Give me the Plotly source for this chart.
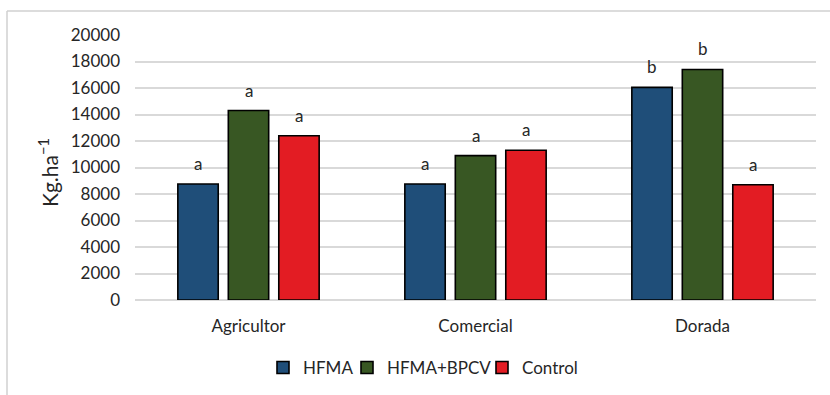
import plotly.graph_objects as go

# Yield per variety and treatment (kg/ha)
categories = ["Agricultor", "Comercial", "Dorada"]
series_names = ["HFMA", "HFMA+BPCV", "Control"]
hfma = [8750, 8750, 16050]
hfma_bpcv = [14300, 10900, 17400]
control = [12400, 11300, 8700]
# Significance letters per bar
letters_hfma = ["a", "a", "b"]
letters_hfma_bpcv = ["a", "a", "b"]
letters_control = ["a", "a", "a"]

y_ticks = list(range(0, 20001, 2000))

colors = ["#1f4e79", "#385723", "#e31c23"]
values = [hfma, hfma_bpcv, control]
letters = [letters_hfma, letters_hfma_bpcv, letters_control]

FONT = "Lato, 'Open Sans', sans-serif"
TEXT = "#262626"

W, H = 830, 395
ML, MR, MT, MB = 135, 14, 35, 95
PW, PH = W - ML - MR, H - MT - MB


def px_x(px):
    return (px - ML) / PW


def px_y(py):
    return (H - MB - py) / PH


legend_ids = ["legend", "legend2", "legend3"]
legend_left = [263, 347, 482]

fig = go.Figure()
for name, vals, col, lid in zip(series_names, values, colors, legend_ids):
    fig.add_trace(go.Bar(
        name=name, x=categories, y=vals, legend=lid, showlegend=True,
        marker=dict(color=col, line=dict(color="#000000", width=1.6)),
    ))

# Letters above each bar, positioned on the bar's own value
n = len(series_names)
bargap, groupgap = 0.333, 0.2
slot = (1 - bargap) / n
annotations = []
for i, (vals, labs) in enumerate(zip(values, letters)):
    offset = -(1 - bargap) / 2 + slot * (i + 0.5)
    for j, (v, lab) in enumerate(zip(vals, labs)):
        annotations.append(dict(
            x=j + offset, y=v, xref="x", yref="y", text=lab,
            showarrow=False, yanchor="bottom", yshift=8,
            font=dict(family=FONT, size=17, color=TEXT),
        ))

# Y-axis title
annotations.append(dict(
    x=px_x(32), y=px_y(173), xref="paper", yref="paper",
    text="Kg.ha<sup>\u22121</sup>", textangle=-90, showarrow=False,
    font=dict(family=FONT, size=21, color=TEXT),
))

# Chart frame (top and left edges)
shapes = [
    dict(type="line", xref="paper", yref="paper", x0=px_x(7), x1=px_x(W),
         y0=px_y(11), y1=px_y(11), line=dict(color="#d0d0d0", width=1.5)),
    dict(type="line", xref="paper", yref="paper", x0=px_x(7), x1=px_x(7),
         y0=px_y(H), y1=px_y(11), line=dict(color="#d0d0d0", width=1.5)),
]

legend_style = dict(font=dict(family=FONT, size=17, color=TEXT),
                    xanchor="left", yanchor="middle", y=px_y(368),
                    bgcolor="rgba(0,0,0,0)", visible=True)

fig.update_layout(
    width=W, height=H,
    margin=dict(l=ML, r=MR, t=MT, b=MB, autoexpand=False),
    paper_bgcolor="white", plot_bgcolor="white",
    showlegend=True,
    barmode="group", bargap=bargap, bargroupgap=groupgap,
    font=dict(family=FONT, size=17, color=TEXT),
    xaxis=dict(
        tickfont=dict(family=FONT, size=17, color=TEXT),
        showgrid=False, showline=False, ticks="", ticklabelstandoff=14,
    ),
    yaxis=dict(
        range=[0, 20000], tickvals=y_ticks, ticktext=[str(t) for t in y_ticks],
        showgrid=True, gridcolor="#d9d9d9", gridwidth=1.8,
        zeroline=True, zerolinecolor="#d9d9d9", zerolinewidth=1.8,
        showline=False, ticks="", ticklabelstandoff=14,
        tickfont=dict(family=FONT, size=17, color=TEXT),
    ),
    legend=dict(x=px_x(legend_left[0]), **legend_style),
    legend2=dict(x=px_x(legend_left[1]), **legend_style),
    legend3=dict(x=px_x(legend_left[2]), **legend_style),
    annotations=annotations,
    shapes=shapes,
)

fig.write_html("out.html")
